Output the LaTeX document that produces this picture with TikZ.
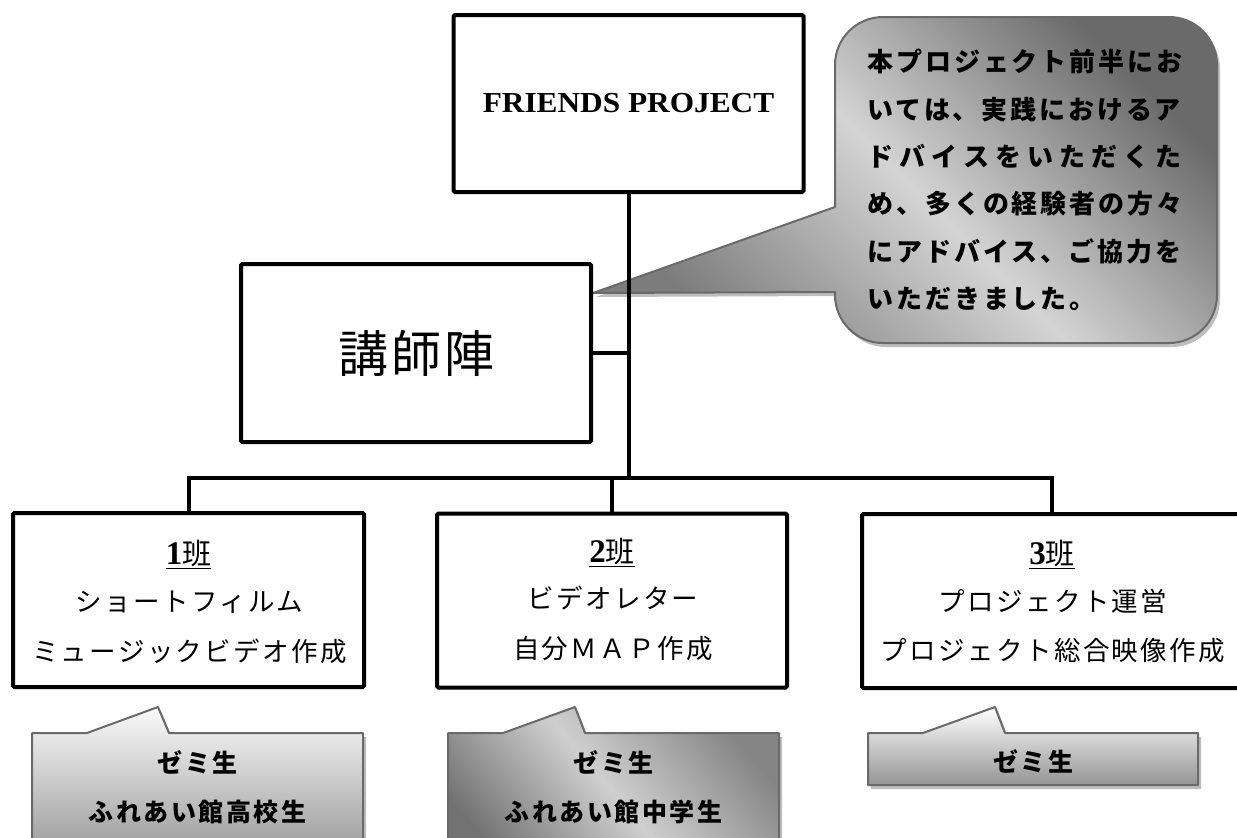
\documentclass[tikz,border=0pt]{standalone}
\usepackage{fontspec}
\setmainfont{Liberation Serif}
\newfontfamily\jpbox[LetterSpace=9]{Noto Sans CJK JP}
\newfontfamily\jpbig[LetterSpace=6]{Noto Sans CJK JP}
\newfontfamily\jpcall[LetterSpace=11]{Noto Sans CJK JP}
\newfontfamily\jpwide[LetterSpace=23.3]{Noto Sans CJK JP}
\newfontfamily\jpbot[LetterSpace=10]{Noto Sans CJK JP}
\newfontfamily\jpplain{Noto Sans CJK JP}
\definecolor{edgec}{HTML}{6A6A6A}
\definecolor{shadc}{HTML}{BEBEBE}
\definecolor{dkA}{HTML}{6A6A6A}
\definecolor{ltA}{HTML}{D4D4D4}
\definecolor{mdA}{HTML}{7C7C7C}
\definecolor{dkB}{HTML}{858585}
\definecolor{ltB}{HTML}{CFCFCF}
\definecolor{mdB}{HTML}{727272}
\definecolor{topL}{HTML}{FAFAFA}
\definecolor{botD}{HTML}{8A8A8A}
\tikzset{
  orgbox/.style={draw=black, line width=4pt, rounded corners=1.5pt, fill=white, inner sep=0pt},
  conn/.style={line width=4pt},
  callline/.style={draw=edgec, line width=2pt, line join=round},
  shadowfill/.style={fill=shadc, draw=none, transform canvas={shift={(3,4)}}},
  boxtext/.style={font=\jpbox\fontsize{26.5}{30}\selectfont, inner sep=0pt},
  titletext/.style={font=\fontsize{29}{31}\selectfont, inner sep=0pt},
  bottext/.style={font=\jpbot\bfseries\fontsize{25}{49}\selectfont, align=center, inner sep=0pt},
}
\newcommand\bantitle[1]{\underline{{\fontsize{33}{33}\selectfont\bfseries #1}\jpplain 班}}
\begin{document}
\begin{tikzpicture}[x=1pt,y=-1pt]
\useasboundingbox (0,0) rectangle (1237,838);
\clip (0,0) rectangle (1237,838);

% callout pointer tips
\coordinate (tipT) at (593,293);
\coordinate (tip1) at (158,707);
\coordinate (tip2) at (575,707);
\coordinate (tip3) at (995,707);

\def\pathT{(tipT) -- (835,207) -- (835,65) .. controls (835,38.5) and (856.5,17) .. (883,17) -- (1169,17) .. controls (1195.5,17) and (1217,38.5) .. (1217,65) -- (1217,295) .. controls (1217,321.5) and (1195.5,343) .. (1169,343) -- (883,343) .. controls (856.5,343) and (835,321.5) .. (835,295) -- (835,292) -- cycle}
\def\pathA{(32,733) -- (87,733) -- (tip1) -- (169,733) -- (363,733) -- (363,880) -- (32,880) -- cycle}
\def\pathB{(448,733) -- (503,733) -- (tip2) -- (585,733) -- (779,733) -- (779,880) -- (448,880) -- cycle}
\def\pathC{(868,733) -- (923,733) -- (tip3) -- (1005,733) -- (1198,733) -- (1198,785) -- (868,785) -- cycle}

% shadows
\fill[shadowfill] \pathT;
\fill[shadowfill] \pathA;
\fill[shadowfill] \pathB;
\fill[shadowfill] \pathC;

% callouts
\draw[callline, left color=dkA, right color=mdA, middle color=ltA, shading angle=-45] \pathT;
\draw[callline, top color=topL, bottom color=botD] \pathA;
\draw[callline, left color=dkB, right color=mdB, middle color=ltB, shading angle=-50] \pathB;
\draw[callline, top color=white, bottom color=black!42] \pathC;

\node[font=\jpcall\bfseries\fontsize{26}{47.4}\selectfont, align=left, inner sep=0pt] (ct) at (1025,180)
  {本プロジェクト前半にお\\
   いては、実践におけるア\\
   {\jpwide\bfseries ドバイスをいただくた}\\
   め、多くの経験者の方々\\
   にアドバイス、ご協力を\\
   いただきました。};

\node[bottext] (c1t) at (197.5,787.5) {ゼミ生\\ふれあい館高校生};
\node[bottext] (c2t) at (613.5,787.5) {ゼミ生\\ふれあい館中学生};
\node[bottext] (c3t) at (1033,761) {ゼミ生};

% boxes
\node[orgbox, minimum width=350pt, minimum height=177pt] (fp) at (628.5,103.5)
  {\fontsize{29}{31}\selectfont\bfseries\scalebox{1.08}[1]{FRIENDS PROJECT}};
\node[orgbox, minimum width=350pt, minimum height=178pt] (kj) at (416,353)
  {\jpbig\fontsize{50}{50}\selectfont 講師陣};
\node[orgbox, minimum width=351pt, minimum height=174pt] (g1) at (188.5,600) {};
\node[orgbox, minimum width=350pt, minimum height=174pt] (g2) at (612,600.5) {};
\node[orgbox, minimum width=380pt, minimum height=174pt] (g3) at (1052,601) {};

\node[titletext] (g1h) at (188.5,554) {\bantitle{1}};
\node[boxtext] (g1a) at (189.5,602) {ショートフィルム};
\node[boxtext] (g1b) at (189.5,651) {ミュージックビデオ作成};

\node[titletext] (g2h) at (612,552) {\bantitle{2}};
\node[boxtext] (g2a) at (613,598) {ビデオレター};
\node[boxtext] (g2b) at (613,648) {自分ＭＡＰ作成};

\node[titletext] (g3h) at (1052,554) {\bantitle{3}};
\node[boxtext] (g3a) at (1053,601) {プロジェクト運営};
\node[boxtext] (g3b) at (1053,651) {プロジェクト総合映像作成};

% connectors
\coordinate (bar) at (628.5,478);
\draw[conn] (fp.south) -- (bar);
\draw[conn] (kj.east) -- (kj.east -| bar);
\draw[conn] (g1.north) |- (bar);
\draw[conn] (g3.north) |- (bar);
\draw[conn] (g2.north) -- (g2.north |- bar);
\end{tikzpicture}
\end{document}
